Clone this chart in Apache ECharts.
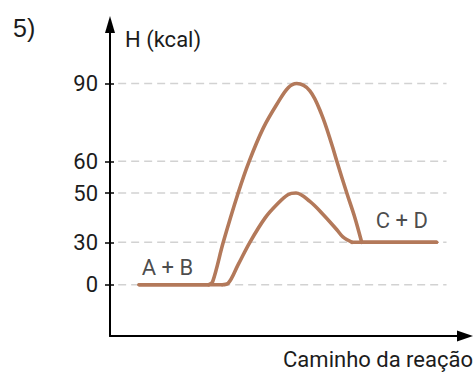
<!DOCTYPE html>
<html>
<head>
<meta charset="utf-8">
<script src="https://cdn.jsdelivr.net/npm/echarts@6/dist/echarts.min.js"></script>
<style>
  html, body { margin: 0; padding: 0; background: #ffffff; }
  #chart { width: 476px; height: 374px; }
</style>
</head>
<body>
<div id="chart"></div>
<script>
// Enthalpy levels marked on the H axis (kcal) and their tick labels
const levels = [0, 30, 50, 60, 90];
const levelLabels = ['0', '30', '50', '60', '90'];
// The H axis is schematic: the gaps between marked levels are not proportional,
// so each level gets its own place on the axis scale.
const levelSpacing = [0, 42.4, 91.7, 123.4, 201.2];

// Reaction path without catalyst: [progress, H (kcal)]
const pathHigh = [
  [8.2, 0], [27.8, 0], [28.9, 2], [31.9, 30], [36.1, 50], [39.2, 60],
  [43.2, 72.9], [47.0, 82], [50.2, 88.4], [52.6, 90], [56.3, 87.2],
  [59.6, 78.1], [62.5, 66.4], [63.9, 60], [66.7, 50], [69.0, 39.9],
  [70.9, 30], [92.0, 30]
];
// Reaction path with catalyst: [progress, H (kcal)]
const pathLow = [
  [8.2, 0], [31.6, 0], [33.3, 1], [36.1, 14.2], [39.4, 30], [43.7, 39.9],
  [47.0, 45.3], [50.1, 49.3], [52.4, 50], [56.3, 46.6], [60.1, 41.2],
  [63.9, 35.1], [65.6, 32.2], [68.2, 30], [92.0, 30]
];
// Reactant / product states
const stateNames = ['A + B', 'C + D'];
const stateProgress = [16.2, 82.2];
const stateH = [0, 30];

// Piecewise-linear placement of an enthalpy value on the schematic axis
function hToAxis(h) {
  for (let i = 1; i < levels.length; i++) {
    if (h <= levels[i] || i === levels.length - 1) {
      const t = (h - levels[i - 1]) / (levels[i] - levels[i - 1]);
      return levelSpacing[i - 1] + t * (levelSpacing[i] - levelSpacing[i - 1]);
    }
  }
  return 0;
}
function axisToLabel(v) {
  for (let i = 0; i < levelSpacing.length; i++) {
    if (Math.abs(levelSpacing[i] - v) < 0.01) return levelLabels[i];
  }
  return '';
}
function toAxisPoints(path) {
  return path.map(function (p) { return [p[0], hToAxis(p[1])]; });
}

const ink = '#1c1c1c';
const curveColor = '#b3795a';
const textFont = 'Roboto';

const gridSeries = levels.map(function (lv) {
  const y = hToAxis(lv);
  return {
    type: 'line',
    silent: true,
    symbol: 'none',
    z: 1,
    data: [[2.3, y], [94.8, y]],
    lineStyle: { color: '#d2d2d2', width: 1.5, type: [8, 5] }
  };
});

// A path = flat reactant level, curved hump, flat product level.
// The flat parts are drawn straight and only the hump is smoothed.
function pathSeries(path, name) {
  let a = 0;
  while (a + 1 < path.length && path[a + 1][1] === path[0][1]) a++;
  let b = path.length - 1;
  while (b - 1 > a && path[b - 1][1] === path[path.length - 1][1]) b--;
  const style = { color: curveColor, width: 3.6, cap: 'round', join: 'round' };
  const base = { type: 'line', name: name, symbol: 'none', z: 3, silent: true };
  return [
    Object.assign({}, base, { data: toAxisPoints(path.slice(0, a + 1)), lineStyle: style }),
    Object.assign({}, base, { data: toAxisPoints(path.slice(a, b + 1)), smooth: 0.35, lineStyle: style }),
    Object.assign({}, base, { data: toAxisPoints(path.slice(b)), lineStyle: style })
  ];
}

const chart = echarts.init(document.getElementById('chart'), null, { renderer: 'svg' });
chart.setOption({
  animation: false,
  backgroundColor: '#ffffff',
  title: {
    text: '5)',
    left: 8,
    top: 10,
    textStyle: { fontFamily: 'Liberation Sans', fontSize: 25, fontWeight: 'normal', color: ink }
  },
  grid: { left: 110, right: 11, top: 24.5, bottom: 38 },
  xAxis: {
    type: 'value',
    min: 0,
    max: 100,
    name: 'Caminho da reação',
    nameLocation: 'end',
    nameGap: 8,
    nameTextStyle: {
      fontFamily: textFont, fontSize: 22, color: ink,
      align: 'right', verticalAlign: 'top', padding: [12, 0, 0, 0]
    },
    axisLine: {
      onZero: false,
      lineStyle: { color: '#000', width: 2 },
      symbol: ['none', 'triangle'],
      symbolSize: [11, 16]
    },
    axisTick: { show: false },
    axisLabel: { show: false },
    splitLine: { show: false }
  },
  yAxis: [{
    type: 'value',
    min: -51.3,
    max: 260.2,
    name: 'H (kcal)',
    nameLocation: 'end',
    nameGap: -15,
    nameTextStyle: {
      fontFamily: textFont, fontSize: 22, color: ink,
      align: 'left', verticalAlign: 'middle', padding: [0, 0, 0, 15]
    },
    axisLine: {
      onZero: false,
      lineStyle: { color: '#000', width: 2 },
      symbol: ['none', 'triangle'],
      symbolSize: [10, 17]
    },
    axisTick: {
      show: true, length: 5, customValues: levelSpacing,
      lineStyle: { color: '#000', width: 1.5 }
    },
    axisLabel: {
      customValues: levelSpacing,
      margin: 12,
      fontFamily: textFont, fontSize: 22, color: ink,
      formatter: axisToLabel
    },
    splitLine: { show: false }
  }, {
    type: 'value',
    min: -51.3,
    max: 260.2,
    position: 'left',
    axisLine: { show: false, onZero: false },
    axisTick: {
      show: true, inside: true, length: 4, customValues: levelSpacing,
      lineStyle: { color: '#000', width: 1.5 }
    },
    axisLabel: { show: false },
    splitLine: { show: false }
  }],
  series: gridSeries
    .concat(pathSeries(pathHigh, 'sem catalisador'))
    .concat(pathSeries(pathLow, 'com catalisador'))
    .concat([{
      type: 'scatter',
      symbolSize: 0,
      z: 4,
      silent: true,
      data: stateNames.map(function (n, i) {
        return {
          value: [stateProgress[i], hToAxis(stateH[i])],
          name: n,
          label: { distance: i === 0 ? 6 : 11 }
        };
      }),
      label: {
        show: true,
        position: 'top',
        formatter: '{b}',
        fontFamily: textFont, fontSize: 22, color: ink
      }
    }])
});
</script>
</body>
</html>
